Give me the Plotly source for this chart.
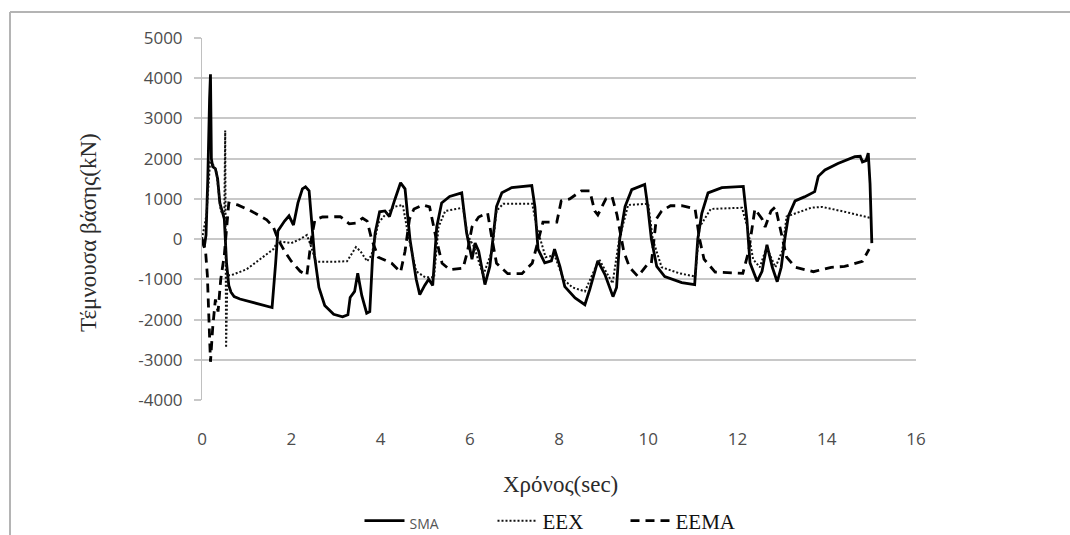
import plotly.graph_objects as go

# Base shear time histories (kN) for the three systems
sma_t = [0.00, 0.05, 0.09, 0.13, 0.17, 0.19, 0.21, 0.24, 0.30, 0.35, 0.40, 0.45, 0.50, 0.55, 0.60,
         0.65, 0.72, 0.85, 1.00, 1.30, 1.57, 1.65, 1.70, 1.85, 1.95, 2.05, 2.15, 2.25, 2.32, 2.40,
         2.45, 2.52, 2.62, 2.75, 2.95, 3.15, 3.27, 3.32, 3.42, 3.49, 3.58, 3.69, 3.76, 3.82, 3.88,
         3.98, 4.10, 4.20, 4.32, 4.45, 4.55, 4.66, 4.80, 4.88, 4.99, 5.08, 5.17, 5.26, 5.37, 5.55,
         5.82, 5.93, 6.05, 6.12, 6.20, 6.34, 6.45, 6.52, 6.60, 6.72, 6.94, 7.39, 7.46, 7.53, 7.68,
         7.83, 7.90, 8.02, 8.13, 8.36, 8.58, 8.69, 8.87, 9.03, 9.21, 9.29, 9.36, 9.48, 9.63, 9.92,
         9.99, 10.07, 10.19, 10.37, 10.75, 11.04, 11.11, 11.20, 11.34, 11.65, 12.13, 12.21, 12.28,
         12.44, 12.55, 12.66, 12.78, 12.89, 12.98, 13.06, 13.14, 13.29, 13.50, 13.73, 13.81, 13.96,
         14.25, 14.63, 14.75, 14.80, 14.88, 14.93, 14.97, 15.01]
sma_v = [0, -200, 100, 1500, 3500, 4100, 2000, 1800, 1750, 1500, 900, 700, 500, -600, -1150,
         -1320, -1430, -1490, -1530, -1620, -1700, -600, 200, 450, 580, 350, 900, 1250, 1300, 1200,
         500, -400, -1200, -1650, -1870, -1930, -1880, -1450, -1300, -850, -1400, -1840, -1800, -500, 150,
         680, 700, 560, 980, 1400, 1250, 0, -1000, -1380, -1150, -1000, -1150, 300, 900, 1060,
         1150, 150, -500, -100, -300, -1130, -680, 0, 810, 1150, 1280, 1330, 800, -250, -590,
         -540, -250, -680, -1180, -1460, -1630, -1250, -540, -880, -1430, -1200, 0, 810, 1230, 1360,
         800, 0, -680, -930, -1080, -1130, 0, 640, 1150, 1280, 1310, 490, -590,
         -1050, -800, -140, -700, -1060, -700, 0, 570, 950, 1050, 1180, 1560, 1720,
         1880, 2050, 2060, 1920, 1950, 2140, 1380, -100]

eex_t = [0.00, 0.10, 0.18, 0.25, 0.32, 0.42, 0.50, 0.52, 0.54, 0.57, 0.65, 1.00, 1.30, 1.60, 1.70,
         2.00, 2.20, 2.35, 2.45, 2.55, 3.00, 3.25, 3.45, 3.55, 3.70, 3.80, 3.95, 4.10, 4.30, 4.50,
         4.62, 4.80, 5.00, 5.20, 5.30, 5.45, 5.85, 5.95, 6.10, 6.30, 6.50, 6.60, 6.75, 7.40, 7.50,
         7.70, 7.90, 8.10, 8.30, 8.58, 8.70, 8.90, 9.20, 9.35, 9.55, 10.00, 10.10, 10.30, 10.70,
         11.05, 11.15, 11.40, 12.10, 12.22, 12.35, 12.50, 12.65, 12.85, 13.00, 13.10, 13.65, 13.90,
         14.40, 14.97]
eex_v = [0, 600, 1900, 1850, 1700, 700, 600, 2700, -2700, -900, -900, -750, -500, -250, -50,
         -100, 0, 100, -200, -560, -560, -550, -200, -300, -550, -400, 400, 600, 800, 850,
         100, -800, -950, -950, 300, 700, 780, 100, -200, -900, -300, 700, 880, 880, 300,
         -450, -400, -1000, -1200, -1300, -1000, -500, -1100, 0, 850, 880, 0, -700, -850,
         -930, 300, 750, 780, 300, -500, -700, -200, -700, -300, 560, 780, 800,
         680, 530]

eema_t = [0.00, 0.08, 0.12, 0.19, 0.24, 0.30, 0.36, 0.42, 0.50, 0.55, 0.60, 0.80, 1.10, 1.45, 1.60,
          1.70, 1.85, 2.00, 2.20, 2.35, 2.45, 2.53, 2.70, 3.10, 3.30, 3.45, 3.60, 3.70, 3.80, 3.95,
          4.25, 4.45, 4.55, 4.65, 4.75, 4.95, 5.10, 5.25, 5.38, 5.55, 5.85, 5.95, 6.05, 6.20, 6.40,
          6.50, 6.60, 6.85, 7.17, 7.40, 7.55, 7.64, 7.95, 8.05, 8.24, 8.50, 8.69, 8.80, 8.87, 9.05,
          9.19, 9.30, 9.45, 9.58, 9.77, 10.00, 10.07, 10.18, 10.30, 10.50, 10.75, 11.05, 11.15,
          11.25, 11.50, 11.70, 12.12, 12.25, 12.39, 12.55, 12.62, 12.75, 12.85, 12.95, 13.10, 13.30,
          13.70, 14.10, 14.40, 14.80, 14.95]
eema_v = [0, -300, -900, -3050, -2200, -1500, -1800, -1000, -400, 300, 900, 850, 700, 480, 300,
          0, -300, -550, -800, -900, 0, 480, 550, 560, 380, 400, 520, 450, 0, -450,
          -600, -820, -300, 500, 750, 850, 800, 0, -600, -760, -720, -300, 300, 550, 650,
          0, -600, -860, -860, -600, 0, 420, 420, 950, 1000, 1200, 1200, 700, 600, 1000,
          1050, 600, -300, -700, -930, -600, -600, 500, 700, 830, 830, 750, 0,
          -500, -820, -830, -850, -300, 750, 500, 300, 700, 800, 300, -450, -700,
          -810, -700, -680, -550, -250]

y_ticks = [5000, 4000, 3000, 2000, 1000, 0, -1000, -2000, -3000, -4000]
x_ticks = [0, 2, 4, 6, 8, 10, 12, 14, 16]

SANS = "Open Sans, Liberation Sans, sans-serif"
SERIF = "Liberation Serif, Times New Roman, serif"

fig = go.Figure()
fig.add_trace(go.Scatter(
    x=sma_t, y=sma_v, mode="lines",
    name=f'<span style="font-family:{SANS};font-size:14px;fill:#555555">SMA</span>',
    line=dict(color="#000000", width=2.8)))
fig.add_trace(go.Scatter(
    x=eex_t, y=eex_v, mode="lines",
    name="EEX",
    line=dict(color="#111111", width=2, dash="2px,2px")))
fig.add_trace(go.Scatter(
    x=eema_t, y=eema_v, mode="lines",
    name="EEMA",
    line=dict(color="#000000", width=2.8, dash="9px,6px")))

W, H = 1070, 535
L, R, T, B = 202, 154, 38, 135
pw, ph = W - L - R, H - T - B


def px(xp):
    return (xp - L) / pw


def py(yp):
    return (H - B - yp) / ph


fig.update_layout(
    width=W, height=H,
    margin=dict(l=L, r=R, t=T, b=B, autoexpand=False),
    paper_bgcolor="white", plot_bgcolor="white",
    showlegend=True,
    legend=dict(orientation="h", x=0.5, xanchor="center", y=py(521), yanchor="middle",
                font=dict(family=SERIF, size=21, color="#111111"),
                bgcolor="rgba(0,0,0,0)", itemwidth=40, tracegroupgap=0,
                entrywidth=78, entrywidthmode="pixels"),
    xaxis=dict(range=[0, 16], tickvals=x_ticks, ticktext=[str(v) for v in x_ticks],
               showgrid=False, zeroline=False, showline=False, ticks="",
               ticklabelstandoff=27,
               tickfont=dict(family=SANS, size=17, color="#4d4d4d")),
    yaxis=dict(range=[-4000, 5000], tickvals=y_ticks, ticktext=[str(v) for v in y_ticks],
               showgrid=True, gridcolor="#c8c8c8",
               gridwidth=2, zeroline=False, showline=True, linecolor="#c0c0c0", linewidth=1,
               ticks="outside", ticklen=7, tickwidth=2, tickcolor="#c8c8c8",
               ticklabelstandoff=8,
               tickfont=dict(family=SANS, size=17, color="#4d4d4d")),
    annotations=[
        dict(text="Τέμνουσα βάσης(kN)", textangle=-90, xref="paper", yref="paper",
             x=px(88), y=py(233), xanchor="center", yanchor="middle", showarrow=False,
             font=dict(family=SERIF, size=23, color="#2b2b2b")),
        dict(text="Χρόνος(sec)", xref="paper", yref="paper",
             x=px(560), y=py(484), xanchor="center", yanchor="middle", showarrow=False,
             font=dict(family=SERIF, size=23, color="#2b2b2b")),
    ],
    shapes=[
        dict(type="line", xref="paper", yref="paper", x0=px(10), x1=px(10), y0=py(540), y1=py(12),
             line=dict(color="#b4b4b4", width=2)),
        dict(type="line", xref="paper", yref="paper", x0=px(10), x1=px(1075), y0=py(12), y1=py(12),
             line=dict(color="#b4b4b4", width=2)),
    ],
)

fig.write_html("out.html")
